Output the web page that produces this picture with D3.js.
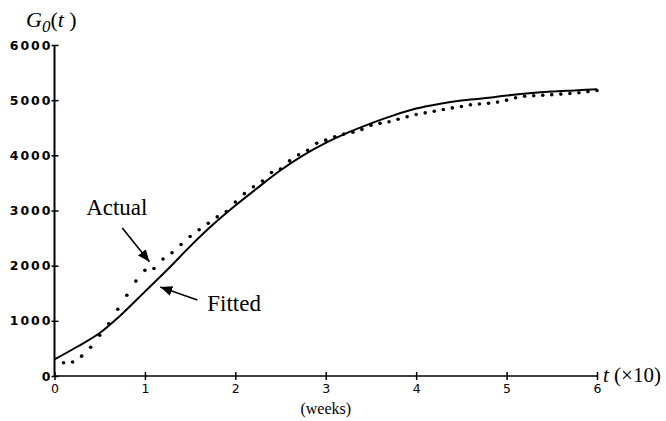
<!DOCTYPE html>
<html>
<head>
<meta charset="utf-8">
<script src="https://cdn.jsdelivr.net/npm/d3@7"></script>
<style>
  body { margin: 0; background: #fff; }
  svg { display: block; }
  .serif { font-family: "Liberation Serif", "Times New Roman", serif; fill: #000; }
  .tickfont { font-family: "DejaVu Sans", sans-serif; font-weight: bold; font-size: 12.5px; letter-spacing: 2px; fill: #000; }
</style>
</head>
<body>
<svg width="666" height="421"></svg>
<script>
"use strict";

// fitted curve G0(t), t in units of 10 weeks
const fittedT = [0, 0.25, 0.5, 0.75, 1, 1.25, 1.5, 1.75, 2, 2.25, 2.5, 2.75, 3,
                 3.25, 3.5, 3.75, 4, 4.25, 4.5, 4.75, 5, 5.25, 5.5, 5.75, 6];
const fittedG = [300, 530, 780, 1130, 1530, 1930, 2350, 2740, 3090, 3415, 3730, 4000, 4225,
                 4415, 4580, 4725, 4848, 4930, 4993, 5034, 5084, 5124, 5155, 5176, 5197];

// actual weekly observations
const actualT = [0.1, 0.2, 0.3, 0.4, 0.5, 0.6, 0.7, 0.8, 0.9, 1.0,
                 1.1, 1.2, 1.3, 1.4, 1.5, 1.6, 1.7, 1.8, 1.9, 2.0,
                 2.1, 2.2, 2.3, 2.4, 2.5, 2.6, 2.7, 2.8, 2.9, 3.0,
                 3.1, 3.2, 3.3, 3.4, 3.5, 3.6, 3.7, 3.8, 3.9, 4.0,
                 4.1, 4.2, 4.3, 4.4, 4.5, 4.6, 4.7, 4.8, 4.9, 5.0,
                 5.1, 5.2, 5.3, 5.4, 5.5, 5.6, 5.7, 5.8, 5.9, 6.0];
const actualG = [240, 255, 360, 520, 740, 945, 1210, 1465, 1720, 1915,
                 1950, 2120, 2235, 2385, 2530, 2650, 2770, 2885, 2980, 3155,
                 3305, 3430, 3535, 3690, 3750, 3900, 4010, 4090, 4220, 4275,
                 4335, 4385, 4420, 4470, 4545, 4580, 4610, 4655, 4700, 4740,
                 4770, 4800, 4830, 4860, 4885, 4915, 4930, 4945, 4965, 5000,
                 5045, 5070, 5080, 5090, 5100, 5110, 5120, 5135, 5155, 5175];

const xTicks = [0, 1, 2, 3, 4, 5, 6];
const yTicks = [0, 1000, 2000, 3000, 4000, 5000, 6000];

// annotations, in data coordinates: label pos, arrow start, arrow tip
const actualNote = {text: "Actual", label: [0.35, 2918], from: [0.75, 2683], to: [1.05, 2070]};
const fittedNote = {text: "Fitted", label: [1.69, 1178], from: [1.58, 1378], to: [1.17, 1613]};

window.addEventListener("load", draw);

function draw() {
    const svg = d3.select("svg");

    const x = d3.scaleLinear().domain([0, 6]).range([54.5, 597]);
    const y = d3.scaleLinear().domain([0, 6000]).range([376, 45]);

    svg.append("defs").append("marker")
        .attr("id", "head")
        .attr("viewBox", "0 0 12 10")
        .attr("refX", 12).attr("refY", 5)
        .attr("markerWidth", 12).attr("markerHeight", 10)
        .attr("markerUnits", "userSpaceOnUse")
        .attr("orient", "auto")
      .append("path")
        .attr("d", "M0,0 L12,5 L0,10 Z")
        .attr("fill", "#000");

    // y axis, ticks cross the line
    const yAxis = svg.append("g")
        .attr("transform", `translate(${x(0)},0)`)
        .call(d3.axisLeft(y).tickValues(yTicks).tickFormat(d3.format("d")).tickSize(3).tickPadding(1));
    yAxis.select(".domain").attr("stroke-width", 2).attr("d", `M0,${y(0)}V${y(6000)}`);
    yAxis.selectAll(".tick line").attr("x1", 4).attr("stroke-width", 1.5);
    yAxis.selectAll(".tick text").attr("class", "tickfont").attr("font-size", null)
        .attr("font-family", null).attr("dx", 2);

    // x axis
    const xAxis = svg.append("g")
        .attr("transform", `translate(0,${y(0)})`)
        .call(d3.axisBottom(x).tickValues(xTicks).tickFormat(d3.format("d")).tickSize(4).tickPadding(4));
    xAxis.select(".domain").attr("stroke-width", 1.5).attr("d", `M${x(0)},0H${x(6)}`);
    xAxis.selectAll(".tick line").attr("y1", -4).attr("stroke-width", 1.5);
    xAxis.selectAll(".tick text").attr("class", "tickfont").attr("font-size", null)
        .attr("font-family", null)
        .style("font-weight", "normal").attr("dx", 1);

    // fitted curve
    const line = d3.line()
        .x((d, i) => x(fittedT[i]))
        .y(d => y(d))
        .curve(d3.curveMonotoneX);
    svg.append("path")
        .datum(fittedG)
        .attr("d", line)
        .attr("fill", "none")
        .attr("stroke", "#000")
        .attr("stroke-width", 2);

    // actual dots
    svg.selectAll("circle.actual")
        .data(actualG)
        .join("circle")
            .attr("class", "actual")
            .attr("cx", (d, i) => x(actualT[i]))
            .attr("cy", d => y(d))
            .attr("r", 1.8)
            .attr("fill", "#000");

    // annotations
    for (const note of [actualNote, fittedNote]) {
        svg.append("text")
            .attr("class", "serif")
            .attr("font-size", 23)
            .attr("x", x(note.label[0]))
            .attr("y", y(note.label[1]))
            .text(note.text);
        svg.append("line")
            .attr("x1", x(note.from[0])).attr("y1", y(note.from[1]))
            .attr("x2", x(note.to[0])).attr("y2", y(note.to[1]))
            .attr("stroke", "#000")
            .attr("stroke-width", 1.6)
            .attr("marker-end", "url(#head)");
    }

    // title G0(t)
    const title = svg.append("text")
        .attr("class", "serif")
        .attr("font-size", 22)
        .attr("x", 26)
        .attr("y", 27);
    title.append("tspan").attr("font-style", "italic").text("G");
    title.append("tspan").attr("font-style", "italic").attr("font-size", 17).attr("dy", 5).text("0");
    title.append("tspan").attr("dy", -5).text("(");
    title.append("tspan").attr("font-style", "italic").text("t");
    title.append("tspan").text(" )");

    // x axis label
    const xl = svg.append("text")
        .attr("class", "serif")
        .attr("font-size", 21)
        .attr("x", x(6) + 6)
        .attr("y", 382);
    xl.append("tspan").attr("font-style", "italic").text("t");
    xl.append("tspan").text(" (×10)");

    svg.append("text")
        .attr("class", "serif")
        .attr("font-size", 16)
        .attr("text-anchor", "middle")
        .attr("x", x(3))
        .attr("y", 414)
        .text("(weeks)");
}
</script>
</body>
</html>
